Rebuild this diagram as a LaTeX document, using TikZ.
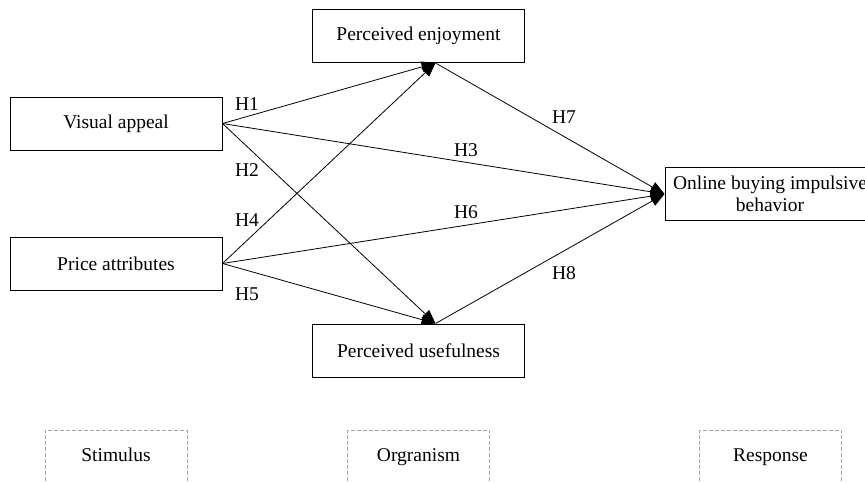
\documentclass[tikz,border=0pt]{standalone}
\usepackage{fontspec}
\setmainfont{Liberation Serif}
\usetikzlibrary{arrows.meta,positioning,calc}

\tikzset{
  construct/.style={draw,line width=0.5pt,minimum width=106pt,minimum height=26.5pt,
    inner sep=0pt,align=center,font=\fontsize{9.75}{11}\selectfont},
  stage/.style={draw=gray!70,dash pattern=on 2pt off 1pt,line width=0.4pt,
    minimum width=71pt,minimum height=26.5pt,inner sep=0pt,text height=7pt,text depth=2pt,
    font=\fontsize{9.75}{11}\selectfont},
  hyp/.style={inner sep=0pt,font=\fontsize{9.75}{11}\selectfont},
  link/.style={line width=0.4pt,-{Triangle[length=7pt,width=5.5pt]}}
}

\begin{document}
\begin{tikzpicture}[x=0.5pt,y=-0.5pt]
    \useasboundingbox (0,0) rectangle (865,482);

    % constructs
    \node[construct] (va) at (116,123.5) {Visual appeal};
    \node[construct] (pa) at (116,263.5) {Price attributes};
    \node[construct] (pe) at (418.5,36) {Perceived enjoyment};
    \node[construct] (pu) at (418.5,350.5) {Perceived usefulness};
    \node[construct, minimum width=105pt] (ob) at (770,194) {Online buying impulsive\\behavior};

    \coordinate (pein) at ([xshift=8.5pt]pe.south);
    \coordinate (puin) at ([xshift=8.5pt]pu.north);

    % paths
    \draw[link] (va.east) -- (pein);
    \draw[link] (va.east) -- (puin);
    \draw[link] (va.east) -- (ob.west);
    \draw[link] (pa.east) -- (pein);
    \draw[link] (pa.east) -- (puin);
    \draw[link] (pa.east) -- (ob.west);
    \draw[link] (pein) -- (ob.west);
    \draw[link] (puin) -- (ob.west);

    % hypotheses
    \node[hyp] (h1) at (247,104) {H1};
    \node[hyp] (h2) at (247,170) {H2};
    \node[hyp] (h3) at (466,150) {H3};
    \node[hyp] (h4) at (247,220) {H4};
    \node[hyp] (h5) at (247,294.5) {H5};
    \node[hyp] (h6) at (466,212) {H6};
    \node[hyp] (h7) at (564,117) {H7};
    \node[hyp] (h8) at (564,273) {H8};

    % S-O-R stages
    \node[stage] (stim) at (116,456.5) {Stimulus};
    \node[stage] (org) at (418.5,456.5) {Orgranism};
    \node[stage] (resp) at (770.5,456.5) {Response};
\end{tikzpicture}
\end{document}
